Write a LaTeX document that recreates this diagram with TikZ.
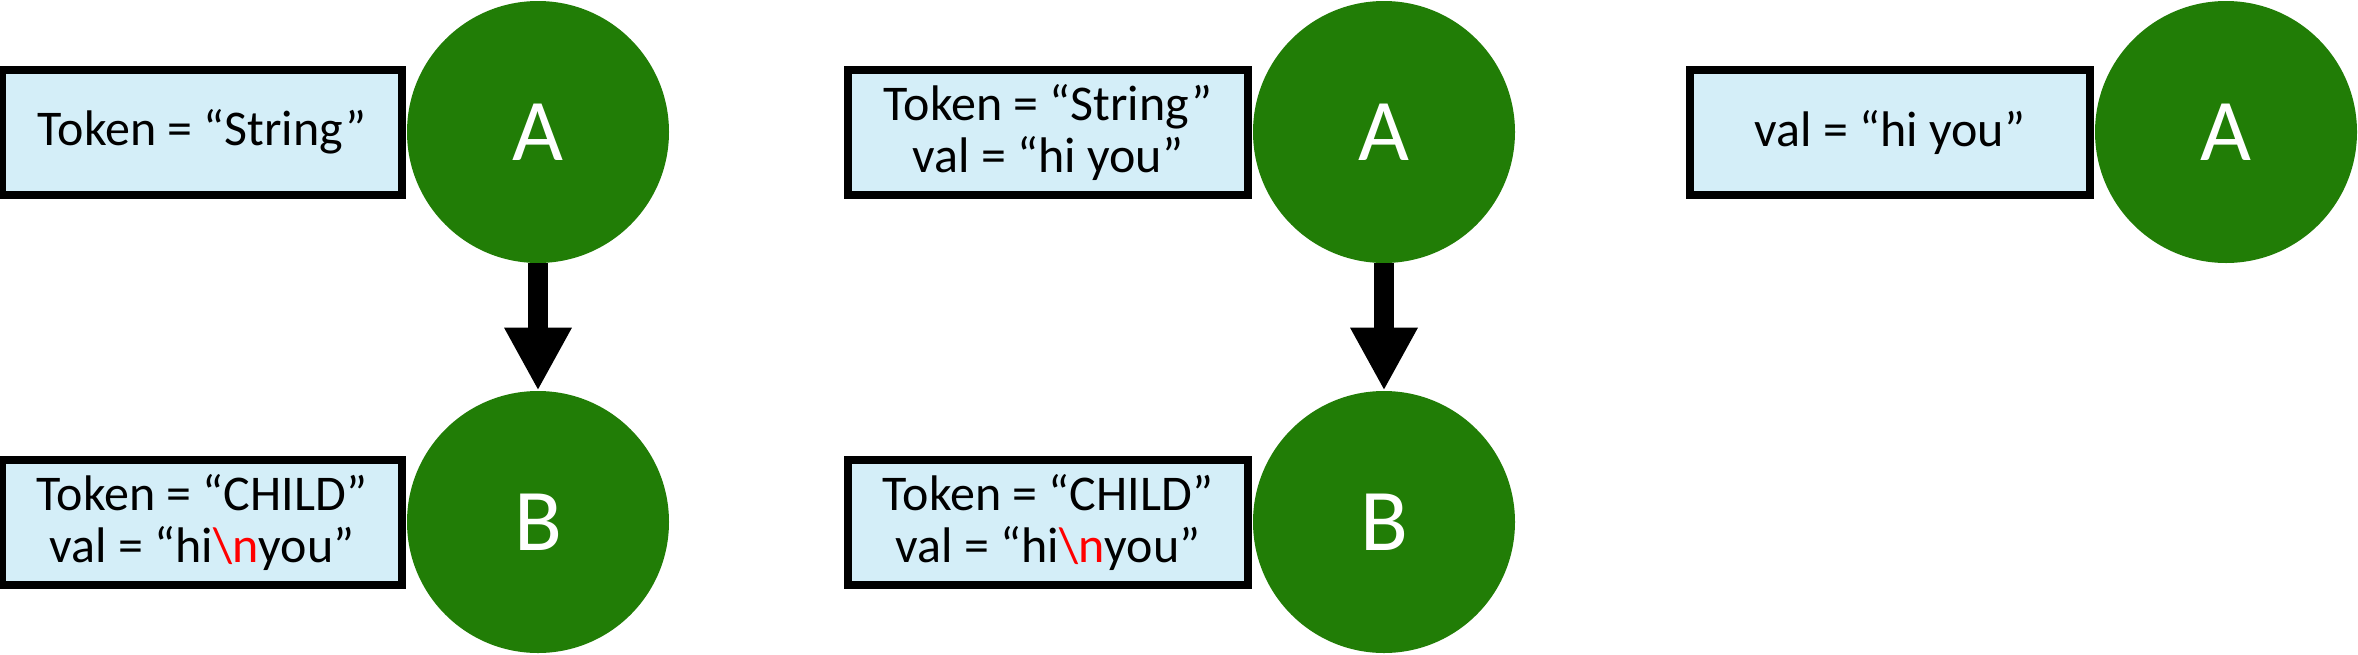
\documentclass[tikz,border=0pt]{standalone}
\usepackage{fontspec}
\setmainfont{Carlito}
\usetikzlibrary{arrows.meta}
\definecolor{nodegreen}{HTML}{217D06}
\definecolor{boxblue}{HTML}{D4EEF8}
\definecolor{escred}{HTML}{FF0000}
\tikzset{
  circ/.style={circle, fill=nodegreen, minimum size=131pt, inner sep=0pt,
    text=white, font=\fontsize{44}{48}\selectfont},
  infobox/.style={rectangle, draw=black, line width=4pt, fill=boxblue,
    minimum width=200pt, minimum height=62.5pt, inner sep=0pt, align=center,
    font=\fontsize{25}{26}\selectfont},
  bigarrow/.style={line width=10pt, -{Triangle[length=31.5pt, width=31.5pt]}}
}
\newcommand{\esc}{\textcolor{escred}{\textbackslash n}}
\begin{document}
\begin{tikzpicture}[x=0.5pt, y=-0.5pt]
\useasboundingbox (0,0) rectangle (2358,654);
% column 1
\node[circ] (a1) at (538,132) {A};
\node[circ] (b1) at (538,522) {B};
\node[infobox] (t1) at (202,132) {Token = “String”};
\node[infobox] (t2) at (202,522) {Token = “CHILD”\\val = “hi\esc you”};
\draw[bigarrow] (a1.south) -- (b1.north);
% column 2
\node[circ] (a2) at (1384,132) {A};
\node[circ] (b2) at (1384,522) {B};
\node[infobox] (t3) at (1048,132) {Token = “String”\\val = “hi you”};
\node[infobox] (t4) at (1048,522) {Token = “CHILD”\\val = “hi\esc you”};
\draw[bigarrow] (a2.south) -- (b2.north);
% column 3
\node[circ] (a3) at (2226,132) {A};
\node[infobox] (t5) at (1890,132) {val = “hi you”};
\end{tikzpicture}
\end{document}
